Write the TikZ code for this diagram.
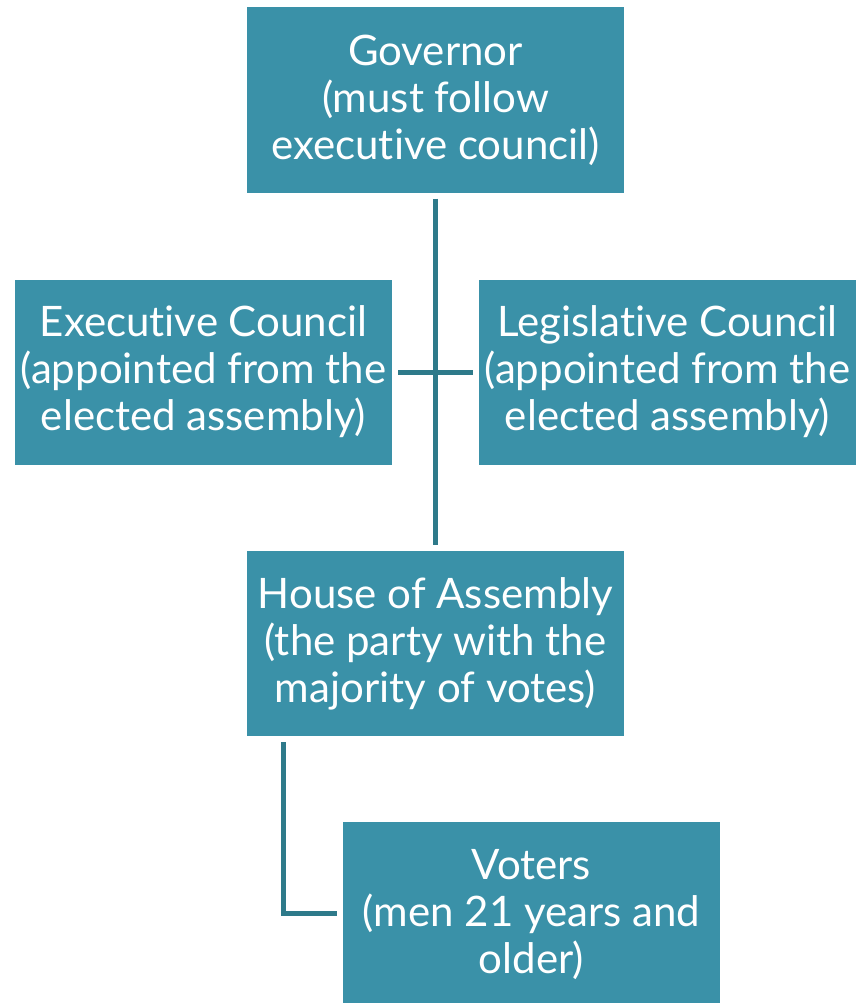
\documentclass[tikz,border=0pt]{standalone}
\usepackage{fontspec}
\setmainfont{Lato}[RawFeature={-liga;-dlig;-calt}]
\newcommand\tIx{t\kern0pt i}
\definecolor{boxteal}{RGB}{58,145,168}
\definecolor{lineteal}{RGB}{46,122,138}
\begin{document}
\begin{tikzpicture}[x=1pt,y=-1pt,
  box/.style={fill=boxteal,draw=none,minimum width=377pt,minimum height=185pt,inner sep=0pt,
    text=white,align=center,font=\fontsize{42}{47}\selectfont},
  conn/.style={draw=lineteal,line width=5pt}]
\useasboundingbox (0,0) rectangle (858,1003);
\node[box] (gov) at (435.5,100) {Governor\\(must follow\\execu\tIx ve council)};
\node[box] (exe) at (203.5,372) {Execu\tIx ve Council\\(appointed from the\\elected assembly)};
\node[box] (leg) at (667.5,372) {Legisla\tIx ve Council\\(appointed from the\\elected assembly)};
\node[box] (hou) at (435.5,643.5) {House of Assembly\\(the party with the\\majority of votes)};
\node[box,minimum height=186pt] (vot) at (531.5,915) {Voters\\(men 21 years and\\older)};
\coordinate (c) at (435,372);
\coordinate (k) at (283,913);
\draw[conn] ([yshift=-6pt]gov.south -| c) -- ([yshift=6pt]hou.north -| c);
\draw[conn] ([xshift=6pt]exe.east) -- ([xshift=-6pt]leg.west);
\draw[conn] ([yshift=-6pt]hou.south -| k) -- (k) -- ([xshift=-6pt]vot.west |- k);
\end{tikzpicture}
\end{document}
